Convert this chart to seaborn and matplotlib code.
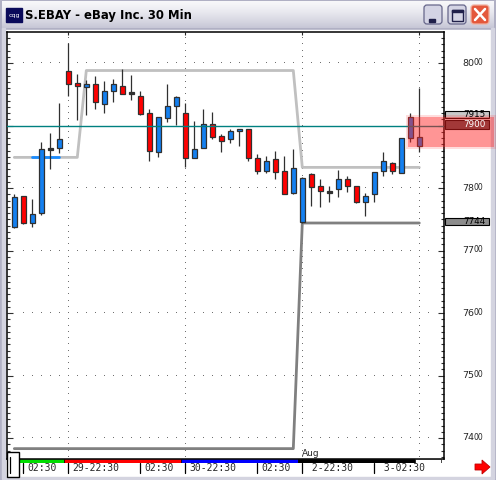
import numpy as np
import pandas as pd
import matplotlib
matplotlib.use('Agg')
import matplotlib.pyplot as plt
import matplotlib.transforms as mtransforms
from matplotlib.patches import Rectangle, FancyBboxPatch, Polygon
from matplotlib.ticker import MultipleLocator, FixedLocator
import seaborn as sns

sns.set_style('white')
plt.rcParams['font.family'] = ['DejaVu Sans']

# S.EBAY 30 min bars
opens = [7737, 7787, 7744, 7760, 7863, 7864, 7987, 7968, 7962, 7967,
         7934, 7956, 7964, 7952, 7948, 7920, 7858, 7912, 7932, 7920,
         7848, 7864, 7902, 7883, 7878, 7891, 7894, 7848, 7827, 7846,
         7827, 7792, 7745, 7822, 7803, 7794, 7798, 7814, 7804, 7777,
         7790, 7827, 7840, 7824, 7880, 7867]
highs = [7790, 7788, 7783, 7874, 7888, 7936, 8032, 7982, 7973, 7979,
         7971, 7975, 7991, 7981, 7955, 7926, 7913, 7967, 7947, 7936,
         7908, 7926, 7922, 7886, 7895, 7895, 7895, 7854, 7851, 7859,
         7851, 7862, 7818, 7824, 7815, 7803, 7829, 7819, 7804, 7792,
         7826, 7858, 7841, 7880, 7920, 7960]
lows = [7736, 7743, 7738, 7757, 7830, 7856, 7948, 7909, 7917, 7926,
        7920, 7938, 7950, 7941, 7917, 7844, 7850, 7906, 7901, 7834,
        7848, 7864, 7878, 7858, 7872, 7868, 7844, 7822, 7824, 7814,
        7790, 7790, 7744, 7772, 7770, 7778, 7786, 7793, 7776, 7756,
        7778, 7819, 7822, 7824, 7873, 7857]
closes = [7785, 7744, 7758, 7862, 7863, 7878, 7966, 7963, 7967, 7937,
          7955, 7966, 7950, 7952, 7919, 7860, 7913, 7931, 7945, 7848,
          7862, 7902, 7881, 7875, 7891, 7894, 7848, 7827, 7843, 7825,
          7790, 7832, 7816, 7801, 7796, 7794, 7814, 7804, 7778, 7788,
          7825, 7843, 7827, 7880, 7913, 7881]

# prior session high / low study lines
prior_high = [7849] * 8 + [7988] * 24 + [7833] * 14
prior_low = [7383] * 32 + [7744] * 14
open_mark_bars = [2, 3, 4, 5]
open_mark_val = [7849] * 4

ref_line = 7900
marker_labels = [7915, 7900, 7744]
band_lo, band_hi = 7866, 7914
price_labels = [8000, 7800, 7700, 7600, 7500, 7400]

session_bars = [6, 19, 32, 45]
session_starts = [1, 6, 19, 32, 45]
session_colors = ['#00dd00', '#ff0000', '#0000ff', '#000000', '#ffffff']
time_bars = [1, 6, 14, 19, 27, 32, 40]
time_labels = ['02:30', '29-22:30', '02:30', '30-22:30', '02:30', ' 2-22:30', ' 3-02:30']

W, H = 496, 480
fig = plt.figure(figsize=(W / 100, H / 100), dpi=100)


def frac(x0, y0, x1, y1):
    return [x0 / W, 1 - y1 / H, (x1 - x0) / W, (y1 - y0) / H]


# window chrome
bg = fig.add_axes([0, 0, 1, 1])
bg.set_xlim(0, W)
bg.set_ylim(H, 0)
bg.axis('off')
bg.set_zorder(0)
bg.add_patch(Rectangle((0, 0), W, H, color='#b0b0c4'))
grad = np.linspace(0, 1, 60)[:, None]
c_top = np.array([0.97, 0.97, 0.98])
c_bot = np.array([0.78, 0.78, 0.84])
img = c_top + (c_bot - c_top) * grad[..., None] ** 1.3
img = np.repeat(img, 2, axis=1)
bg.imshow(img, extent=(2, W - 2, 28, 1), aspect='auto', zorder=1)
bg.add_patch(Rectangle((6, 30), 484, 446, color='white', zorder=2))
bg.add_patch(Rectangle((2, 28), 3, 449, color='#d4d4e0', zorder=2))
bg.add_patch(Rectangle((W - 5, 28), 3, 449, color='#d4d4e0', zorder=2))
bg.add_patch(Rectangle((2, H - 3), W - 4, 1.5, color='#d4d4e0', zorder=2))

# icon + title
bg.add_patch(Rectangle((6, 8), 16, 14, color='#0a0a5a', zorder=3))
bg.text(14, 15, 'cqg', color='white', fontsize=4.5, ha='center', va='center', zorder=4)
bg.text(25, 15.5, 'S.EBAY - eBay Inc. 30 Min', fontsize=8.4, fontweight='semibold',
        ha='left', va='center', color='black', zorder=4)

# title buttons
for x0, fc, ec in [(423, '#d4d4e4', '#66668a'), (447, '#d4d4e4', '#66668a'),
                   (470, '#e4583c', '#f0b0a0')]:
    bg.add_patch(FancyBboxPatch((x0 + 1, 5), 18, 19, boxstyle='round,pad=0,rounding_size=3',
                                fc=fc, ec=ec, lw=0.9, zorder=3))
bg.add_patch(Rectangle((429, 19), 6, 2.5, color='#20204a', zorder=4))
bg.add_patch(Rectangle((451.5, 10), 11, 11, fc='none', ec='#20204a', lw=1, zorder=4))
bg.add_patch(Rectangle((451.5, 10), 11, 2, color='#20204a', zorder=4))
bg.plot([475, 485], [9, 20], color='white', lw=1.8, zorder=4)
bg.plot([475, 485], [20, 9], color='white', lw=1.8, zorder=4)

# main price pane
ax = fig.add_axes(frac(7, 32, 444, 459))
ax.set_zorder(2)
ax.set_facecolor('white')
x_lo = (7 - 14.3) / 9
x_hi = (444 - 14.3) / 9
ax.set_xlim(x_lo, x_hi)
ax.set_ylim(8000 - (459 - 63) * 1.6, 8000 + (63 - 32) * 1.6)
y_lo, y_hi = ax.get_ylim()

# dotted grid
levels = np.arange(np.ceil(y_lo / 10) * 10, y_hi, 10)
for b in session_bars:
    ax.plot(np.full(len(levels), b), levels, ls='none', marker=',', color='#707070', zorder=1)
bars_x = np.arange(1, 47)
for p in [8000, 7800, 7700, 7600, 7500, 7400]:
    ax.plot(bars_x, np.full(len(bars_x), p), ls='none', marker=',', color='#707070', zorder=1)

# study lines
df_lines = pd.DataFrame({'bar': np.arange(len(prior_high)), 'hi': prior_high, 'lo': prior_low})
sns.lineplot(data=df_lines, x='bar', y='hi', ax=ax, color='#c0c0c0', lw=2, zorder=2)
sns.lineplot(data=df_lines, x='bar', y='lo', ax=ax, color='#808080', lw=2, zorder=2)
sns.lineplot(x=open_mark_bars, y=open_mark_val, ax=ax, color='#1a8cff', lw=2, zorder=3)

# candles
df = pd.DataFrame({'o': opens, 'h': highs, 'l': lows, 'c': closes})
df['x'] = np.arange(len(df))
df['bottom'] = df[['o', 'c']].min(axis=1)
df['height'] = (df['c'] - df['o']).abs()
df['color'] = np.where(df['c'] > df['o'], '#1480f0', '#ff0000')
doji = df['height'] < 1
df.loc[doji, 'color'] = '#303030'
df.loc[doji, 'bottom'] = df.loc[doji, 'o'] - 1.5
df.loc[doji, 'height'] = 3

ax.vlines(df['x'], df['l'], df['h'], color='#303030', lw=0.9, zorder=4)
ax.bar(df['x'], df['height'], bottom=df['bottom'], width=0.5, color=df['color'],
       edgecolor='#303030', linewidth=0.9, zorder=5)

ax.axhline(ref_line, color='#008080', lw=1, zorder=6)

ax.yaxis.set_major_locator(MultipleLocator(100))
ax.yaxis.set_minor_locator(MultipleLocator(10))
ax.xaxis.set_major_locator(FixedLocator(session_bars))
ax.tick_params(axis='y', which='major', direction='in', left=True, right=True, length=4,
               width=0.8, color='#303030', labelleft=False, labelright=False)
ax.tick_params(axis='y', which='minor', direction='in', left=True, right=True, length=2.2,
               width=0.8, color='#303030')
ax.tick_params(axis='x', which='major', direction='in', top=True, bottom=False, length=2.5,
               width=0.8, labelbottom=False)
for s in ax.spines.values():
    s.set_color('black')
    s.set_linewidth(1.1)
ax.set_xlabel('')
ax.set_ylabel('')
ax.text(32 - 0.05, y_lo + 1.5, 'Aug', fontsize=6.5, ha='left', va='bottom', zorder=7)

# session strip
sx = fig.add_axes(frac(7, 459, 444, 462.5), sharex=ax)
sx.set_zorder(2)
sx.axis('off')
edges = session_starts + [x_hi + 0.5]
for i, col in enumerate(session_colors):
    left = edges[i] - 0.5 + 0.05
    right = min(edges[i + 1] - 0.5, 47.4)
    sx.add_patch(Rectangle((left, 0), right - left, 1, fc=col, ec='black', lw=0.5))
sx.set_ylim(0, 1)

# overlay: price marker band, labels, time axis
ov = fig.add_axes([0, 0, 1, 1])
ov.set_xlim(0, W)
ov.set_ylim(H, 0)
ov.axis('off')
ov.set_zorder(5)
ov.patch.set_alpha(0)
tr = mtransforms.blended_transform_factory(ov.transData, ax.transData)
trx = mtransforms.blended_transform_factory(ax.transData, ov.transData)
shift = mtransforms.ScaledTranslation(4 / 100, 0, fig.dpi_scale_trans)

for p in price_labels:
    ov.text(462.5, p, str(p)[:2], transform=tr, fontsize=6.8, ha='left', va='center')
    ov.text(474, p + 1.5, str(p)[2:], transform=tr, fontsize=5.5, ha='left', va='center')

box_style = {7915: ('#c8c8c8', 'black'), 7900: ('#505050', 'white'), 7744: ('#8c8c8c', 'black')}
for v in marker_labels:
    fc, tc = box_style[v]
    h = 14 if v == 7900 else 11.5
    ov.add_patch(Rectangle((445, v + 2 - h / 2), 44, h, transform=tr, fc=fc, ec='black', lw=0.8))
    ov.text(474, v + 2, str(v), transform=tr, fontsize=6.3, ha='center', va='center',
            color=tc)

ov.add_patch(Rectangle((406, band_lo - 3), 90, band_hi - band_lo + 6, transform=tr,
                       color='#ff2020', alpha=0.15, lw=0))
ov.add_patch(Rectangle((408, band_lo), 86, band_hi - band_lo, transform=tr,
                       color='#ff2020', alpha=0.38, lw=0))

for b, lab in zip(time_bars, time_labels):
    ov.plot([b, b], [463, 473], transform=trx, color='black', lw=0.9)
    ov.text(b, 468, lab, transform=trx + shift, fontsize=7,
            family='DejaVu Sans Mono', ha='left', va='center')

# scroll box and arrow
ov.add_patch(Rectangle((7, 452), 12, 25, fc='white', ec='black', lw=1))
ov.plot([9.5, 9.5], [457, 473], color='black', lw=0.9)
ov.add_patch(Polygon([(475, 464), (482, 464), (482, 460), (490, 467), (482, 474),
                      (482, 470), (475, 470)], closed=True, fc='#ff0000', ec='#c00000', lw=0.6))

fig.savefig('out.png', dpi=100)
